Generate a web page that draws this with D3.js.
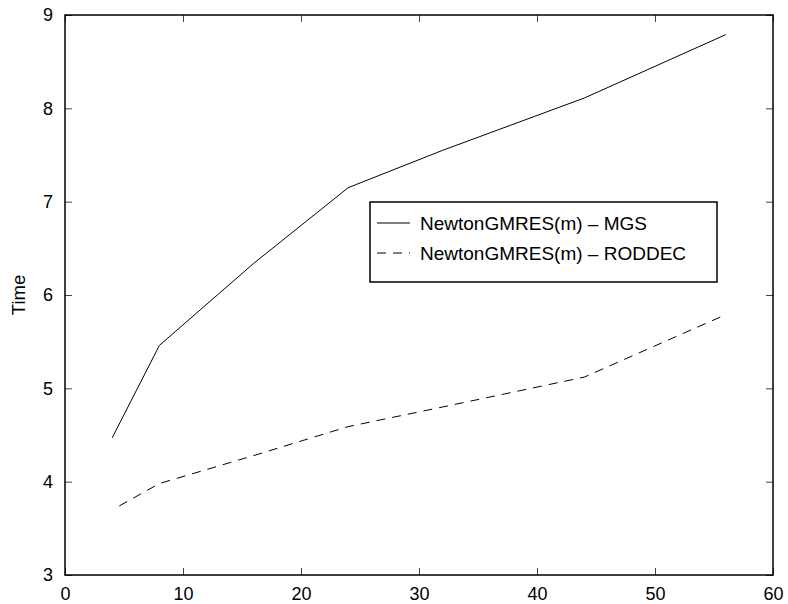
<!DOCTYPE html>
<html>
<head>
<meta charset="utf-8">
<script src="https://cdn.jsdelivr.net/npm/d3@7"></script>
<style>
  body { margin: 0; background: #fff; }
  text { font-family: "Liberation Sans", Arial, sans-serif; }
</style>
</head>
<body>
<div class="vis-linechart"></div>
<script>
const seriesNames = ['NewtonGMRES(m) \u2013 MGS', 'NewtonGMRES(m) \u2013 RODDEC'];
const mgsX = [4, 8, 16, 24, 32, 44, 56];
const mgsY = [4.47, 5.46, 6.34, 7.15, 7.55, 8.11, 8.79];
const roddecX = [4.6, 8, 16, 24, 32, 44, 56];
const roddecY = [3.74, 3.98, 4.28, 4.59, 4.80, 5.12, 5.79];
const xTicks = [0, 10, 20, 30, 40, 50, 60];
const yTicks = [3, 4, 5, 6, 7, 8, 9];

const draw = () => {
  const margin = { top: 15, right: 15, bottom: 29, left: 65 };
  const totalW = 788, totalH = 604;
  const width = totalW - margin.left - margin.right;
  const height = totalH - margin.top - margin.bottom;

  const svg = d3.select('.vis-linechart')
    .append('svg')
    .attr('width', totalW)
    .attr('height', totalH)
    .append('g')
    .attr('transform', `translate(${margin.left},${margin.top})`);

  const x = d3.scaleLinear().domain([0, 60]).range([0, width]);
  const y = d3.scaleLinear().domain([3, 9]).range([height, 0]);

  // inner ticks on all four sides
  const tickStyle = (g) => {
    g.select('.domain').remove();
    g.selectAll('.tick line').attr('stroke', '#444');
    g.selectAll('.tick text').attr('font-size', 18).attr('fill', '#000')
      .attr('font-family', '"Liberation Sans", Arial, sans-serif');
  };
  const fmt = d3.format('d');
  svg.append('g').attr('transform', `translate(0,${height})`)
    .call(d3.axisBottom(x).tickValues(xTicks).tickFormat(fmt).tickSizeInner(-7).tickPadding(12))
    .call(tickStyle);
  svg.append('g')
    .call(d3.axisTop(x).tickValues(xTicks).tickSizeInner(-7).tickFormat(''))
    .call(tickStyle);
  svg.append('g')
    .call(d3.axisLeft(y).tickValues(yTicks).tickFormat(fmt).tickSizeInner(-7).tickPadding(12))
    .call(tickStyle);
  svg.append('g').attr('transform', `translate(${width},0)`)
    .call(d3.axisRight(y).tickValues(yTicks).tickSizeInner(-7).tickFormat(''))
    .call(tickStyle);

  // box
  svg.append('rect')
    .attr('width', width).attr('height', height)
    .attr('fill', 'none').attr('stroke', '#000').attr('stroke-width', 1.5);

  const line = d3.line().x((d) => x(d[0])).y((d) => y(d[1]));
  const mgs = mgsX.map((v, i) => [v, mgsY[i]]);
  const roddec = roddecX.map((v, i) => [v, roddecY[i]]);

  svg.append('path').datum(mgs)
    .attr('d', line).attr('fill', 'none').attr('stroke', '#000').attr('stroke-width', 1);
  svg.append('path').datum(roddec)
    .attr('d', line).attr('fill', 'none').attr('stroke', '#000').attr('stroke-width', 1)
    .attr('stroke-dasharray', '9,7');

  // y label
  svg.append('text')
    .attr('transform', `translate(${-40},${height / 2}) rotate(-90)`)
    .attr('text-anchor', 'middle')
    .attr('font-size', 18.5)
    .text('Time');

  // legend
  const lg = svg.append('g').attr('transform', `translate(${370 - margin.left},${202 - margin.top})`);
  lg.append('rect').attr('width', 347).attr('height', 80)
    .attr('fill', '#fff').attr('stroke', '#000').attr('stroke-width', 1.5);
  const dashes = [null, '9,7'];
  seriesNames.forEach((name, i) => {
    const cy = 21 + i * 30;
    lg.append('line').attr('x1', 7).attr('x2', 40).attr('y1', cy).attr('y2', cy)
      .attr('stroke', '#000').attr('stroke-width', 1)
      .attr('stroke-dasharray', dashes[i]);
    lg.append('text').attr('x', 50).attr('y', cy).attr('dy', '0.35em')
      .attr('font-size', 19).text(name);
  });
};

draw();
</script>
</body>
</html>
